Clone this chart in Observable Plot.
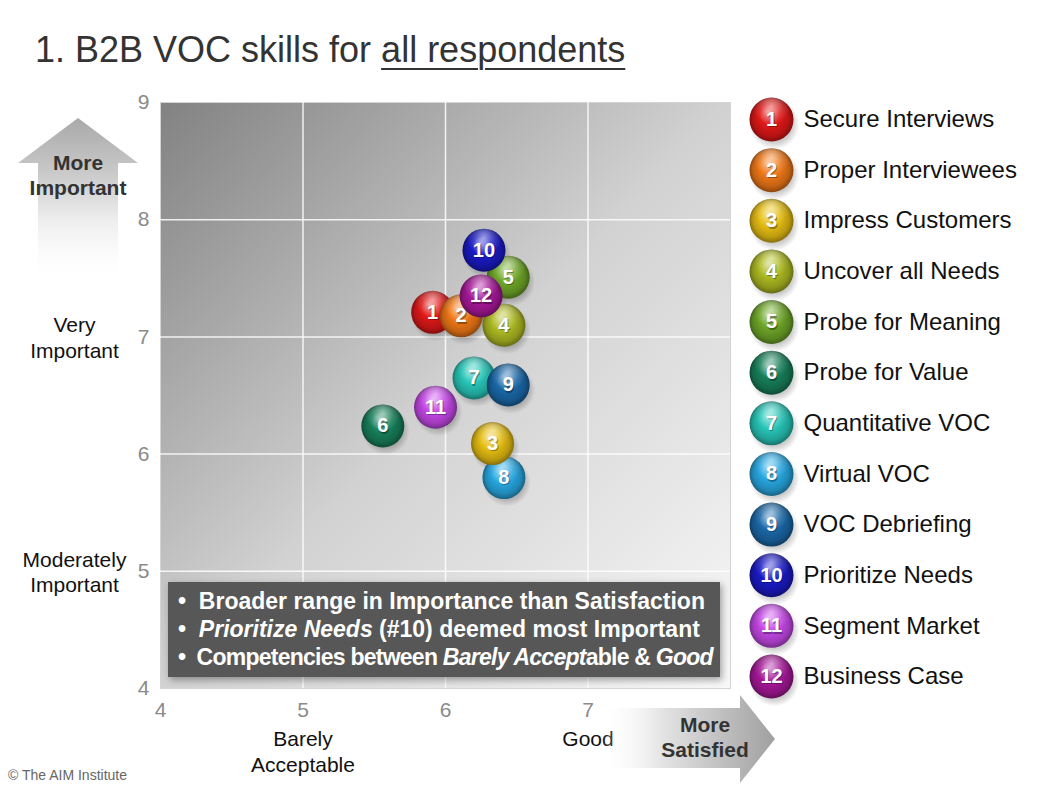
<!DOCTYPE html>
<html>
<head>
<meta charset="utf-8">
<script src="https://cdn.jsdelivr.net/npm/d3@7"></script>
<script src="https://cdn.jsdelivr.net/npm/@observablehq/plot@0.6"></script>
<style>
  body { margin: 0; background: #fff; font-family: "Liberation Sans", Arial, sans-serif; }
  #page { position: relative; width: 1050px; height: 788px; overflow: hidden; background: #fff; }
  #title { position: absolute; left: 35px; top: 28px; font-size: 36px; line-height: 44px; color: #333; white-space: nowrap; }
  #title u { text-decoration-thickness: 2px; text-underline-offset: 6px; }
  #main, #legend, #deco { position: absolute; }
  #main { left: 0; top: 0; }
  #legend { left: 740px; top: 93px; }
  #deco { left: 0; top: 0; pointer-events: none; }
  #box { position: absolute; left: 168px; top: 582px; width: 552px; height: 95px; background: #575757;
         box-shadow: 2px 3px 7px rgba(0,0,0,0.35); color: #fff; font-weight: bold; font-size: 23px;
         line-height: 28px; padding: 5px 0 0 10px; box-sizing: border-box; white-space: nowrap; }
  #box .l3 { letter-spacing: -0.75px; }
  #copy { position: absolute; left: 8px; top: 767px; font-size: 14px; color: #666; }
</style>
</head>
<body>
<div id="page">
  <div id="main"></div>
  <div id="title">1. B2B VOC skills for <u>all respondents</u></div>
  <div id="legend"></div>
  <div id="box">
    <div>•&nbsp; Broader range in Importance than Satisfaction</div>
    <div>•&nbsp; <i>Prioritize Needs</i> (#10) deemed most Important</div>
    <div class="l3">•&nbsp; Competencies between <i>Barely Accept</i>able &amp; <i>Good</i></div>
  </div>
  <div id="copy">© The AIM Institute</div>
</div>
<script>
// ---- data ----
const ids = [1, 2, 3, 4, 5, 6, 7, 8, 9, 10, 11, 12];
const skills = ["Secure Interviews", "Proper Interviewees", "Impress Customers", "Uncover all Needs",
  "Probe for Meaning", "Probe for Value", "Quantitative VOC", "Virtual VOC", "VOC Debriefing",
  "Prioritize Needs", "Segment Market", "Business Case"];
const satisfaction = [5.91, 6.11, 6.33, 6.41, 6.44, 5.56, 6.20, 6.41, 6.44, 6.27, 5.93, 6.25];
const importance   = [7.21, 7.18, 6.09, 7.10, 7.51, 6.24, 6.65, 5.80, 6.59, 7.74, 6.40, 7.35];
const ballColors = ["#e01818", "#f07818", "#e6be12", "#aeba22", "#6ea628", "#17805a",
  "#28c6b8", "#28a8e2", "#1a68a8", "#1a1ac8", "#c648e8", "#a8189a"];
const drawOrder = [8, 3, 6, 11, 7, 9, 5, 4, 1, 2, 10, 12];
const xTicks = [4, 5, 6, 7];
const yTicks = [4, 5, 6, 7, 8, 9];
const xGrid = [5, 6, 7];
const yGrid = [5, 6, 7, 8];
const xLevelValues = [5, 7];
const xLevelLabels = ["Barely\nAcceptable", "Good"];
const yLevelValues = [7, 5];
const yLevelLabels = ["Very\nImportant", "Moderately\nImportant"];

const data = ids.map((id, i) => ({id, skill: skills[i], sat: satisfaction[i], imp: importance[i]}));
const xLevels = xLevelValues.map((v, i) => ({v, label: xLevelLabels[i]}));
const yLevels = yLevelValues.map((v, i) => ({v, label: yLevelLabels[i]}));
const font = "Liberation Sans, Arial, sans-serif";

// ---- gradients ----
const defsSvg = d3.select("#page").append("svg").attr("width", 0).attr("height", 0)
  .style("position", "absolute").style("left", 0).style("top", 0);
const defs = defsSvg.append("defs");
ballColors.forEach((c, i) => {
  const g = defs.append("radialGradient").attr("id", `ball-${i + 1}`)
    .attr("cx", "50%").attr("cy", "50%").attr("r", "50%").attr("fx", "42%").attr("fy", "32%");
  const base = d3.color(c);
  [[0, d3.interpolateRgb(c, "#ffffff")(0.45)], [0.45, c], [0.82, base.darker(0.6)], [1, base.darker(1.5)]]
    .forEach(([o, col]) => g.append("stop").attr("offset", o).attr("stop-color", col));
});
{
  const g = defs.append("radialGradient").attr("id", "gloss").attr("cx", "50%").attr("cy", "20%").attr("r", "42%");
  g.append("stop").attr("offset", 0).attr("stop-color", "#fff").attr("stop-opacity", 0.55);
  g.append("stop").attr("offset", 0.6).attr("stop-color", "#fff").attr("stop-opacity", 0.15);
  g.append("stop").attr("offset", 1).attr("stop-color", "#fff").attr("stop-opacity", 0);
  const s = defs.append("radialGradient").attr("id", "shadow").attr("cx", "50%").attr("cy", "50%").attr("r", "50%");
  s.append("stop").attr("offset", 0).attr("stop-color", "#000").attr("stop-opacity", 0.45);
  s.append("stop").attr("offset", 0.7).attr("stop-color", "#000").attr("stop-opacity", 0.2);
  s.append("stop").attr("offset", 1).attr("stop-color", "#000").attr("stop-opacity", 0);
  const bg = defs.append("linearGradient").attr("id", "bg").attr("x1", 0).attr("y1", 0).attr("x2", 1).attr("y2", 1);
  [[0, "#828282"], [0.5, "#d2d2d2"], [1, "#f8f8f8"]].forEach(([o, c]) => bg.append("stop").attr("offset", o).attr("stop-color", c));
}

// ---- main chart ----
const ballMarks = drawOrder.flatMap(id => {
  const d = data.filter(r => r.id === id);
  return [
    Plot.dot(d, {x: "sat", y: "imp", r: 21.5, fill: `url(#ball-${id})`}),
    Plot.dot(d, {x: "sat", y: "imp", r: 21.5, fill: "url(#gloss)"}),
    Plot.text(d, {x: "sat", y: "imp", text: r => String(r.id), dx: 1, dy: 1.5, fill: "#000", fillOpacity: 0.35,
      fontSize: 20, fontWeight: "bold", fontFamily: font}),
    Plot.text(d, {x: "sat", y: "imp", text: r => String(r.id), fill: "#fff",
      fontSize: 20, fontWeight: "bold", fontFamily: font})
  ];
});

const main = Plot.plot({
  width: 1050, height: 788,
  marginLeft: 160, marginRight: 320, marginTop: 102, marginBottom: 100,
  style: {background: "transparent", fontFamily: font, overflow: "visible"},
  x: {domain: [4, 8]},
  y: {domain: [4, 9]},
  marks: [
    Plot.frame({fill: "url(#bg)", stroke: "#d4d4d4"}),
    Plot.gridX({ticks: xGrid, stroke: "#fff", strokeOpacity: 0.85, strokeWidth: 1.5}),
    Plot.gridY({ticks: yGrid, stroke: "#fff", strokeOpacity: 0.85, strokeWidth: 1.5}),
    Plot.axisX({ticks: xTicks, tickFormat: "d", tickSize: 0, tickPadding: 14, fontSize: 21, color: "#8a8a8a", label: null}),
    Plot.axisY({ticks: yTicks, tickFormat: "d", tickSize: 0, tickPadding: 11, fontSize: 21, color: "#8a8a8a", label: null}),
    Plot.text(yLevels, {y: "v", text: "label", frameAnchor: "left", dx: -86, textAnchor: "middle",
      lineHeight: 1.2, fontSize: 21, fill: "#111"}),
    Plot.text(xLevels, {x: "v", text: "label", frameAnchor: "bottom", dy: 40, lineAnchor: "top",
      textAnchor: "middle", lineHeight: 1.2, fontSize: 21, fill: "#111"}),
    Plot.dot(data, {x: "sat", y: "imp", r: 24, dx: 3, dy: 5, fill: "url(#shadow)"}),
    ...ballMarks
  ]
});
document.getElementById("main").append(main);

// ---- legend ----
const legend = Plot.plot({
  width: 310, height: 610, margin: 0,
  style: {background: "transparent", fontFamily: font, overflow: "visible"},
  y: {type: "point", domain: skills, range: [26, 583], padding: 0, round: false, axis: null},
  color: {type: "identity"},
  marks: [
    Plot.dot(data, {y: "skill", frameAnchor: "left", dx: 34, dy: 5, r: 25, fill: "url(#shadow)"}),
    Plot.dot(data, {y: "skill", frameAnchor: "left", dx: 31, r: 22, fill: d => `url(#ball-${d.id})`}),
    Plot.dot(data, {y: "skill", frameAnchor: "left", dx: 31, r: 22, fill: "url(#gloss)"}),
    Plot.text(data, {y: "skill", text: d => String(d.id), frameAnchor: "left", dx: 32, dy: 1.5, textAnchor: "middle",
      fill: "#000", fillOpacity: 0.35, fontSize: 20, fontWeight: "bold"}),
    Plot.text(data, {y: "skill", text: d => String(d.id), frameAnchor: "left", dx: 31, textAnchor: "middle",
      fill: "#fff", fontSize: 20, fontWeight: "bold"}),
    Plot.text(data, {y: "skill", text: "skill", frameAnchor: "left", dx: 63, textAnchor: "start",
      fontSize: 24, fill: "#111"})
  ]
});
document.getElementById("legend").append(legend);

// ---- decorative arrows ----
const deco = d3.select("#page").append("svg").attr("id", "deco").attr("width", 1050).attr("height", 788);
const dd = deco.append("defs");
const ug = dd.append("linearGradient").attr("id", "upg").attr("gradientUnits", "userSpaceOnUse")
  .attr("x1", 0).attr("y1", 118).attr("x2", 0).attr("y2", 285);
[[0, "#a9a9a9", 1], [0.3, "#c6c6c6", 1], [0.6, "#ececec", 1], [1, "#ffffff", 0]]
  .forEach(([o, c, a]) => ug.append("stop").attr("offset", o).attr("stop-color", c).attr("stop-opacity", a));
const rg = dd.append("linearGradient").attr("id", "rightg").attr("gradientUnits", "userSpaceOnUse")
  .attr("x1", 600).attr("y1", 0).attr("x2", 775).attr("y2", 0);
[[0, "#ffffff", 0], [0.35, "#e4e4e4", 1], [1, "#a0a0a0", 1]]
  .forEach(([o, c, a]) => rg.append("stop").attr("offset", o).attr("stop-color", c).attr("stop-opacity", a));
deco.append("path").attr("d", "M78,118 L138,163 L118,163 L118,285 L38,285 L38,163 L18,163 Z").attr("fill", "url(#upg)");
deco.append("path").attr("d", "M600,708 L740,708 L740,695 L775,739 L740,783 L740,768 L600,768 Z").attr("fill", "url(#rightg)");
const dt = deco.append("g").attr("font-family", font).attr("font-weight", "bold").attr("font-size", 21)
  .attr("fill", "#333").attr("text-anchor", "middle");
dt.append("text").attr("x", 78).attr("y", 170).text("More");
dt.append("text").attr("x", 78).attr("y", 195).text("Important");
dt.append("text").attr("x", 705).attr("y", 732).text("More");
dt.append("text").attr("x", 705).attr("y", 757).text("Satisfied");
</script>
</body>
</html>
